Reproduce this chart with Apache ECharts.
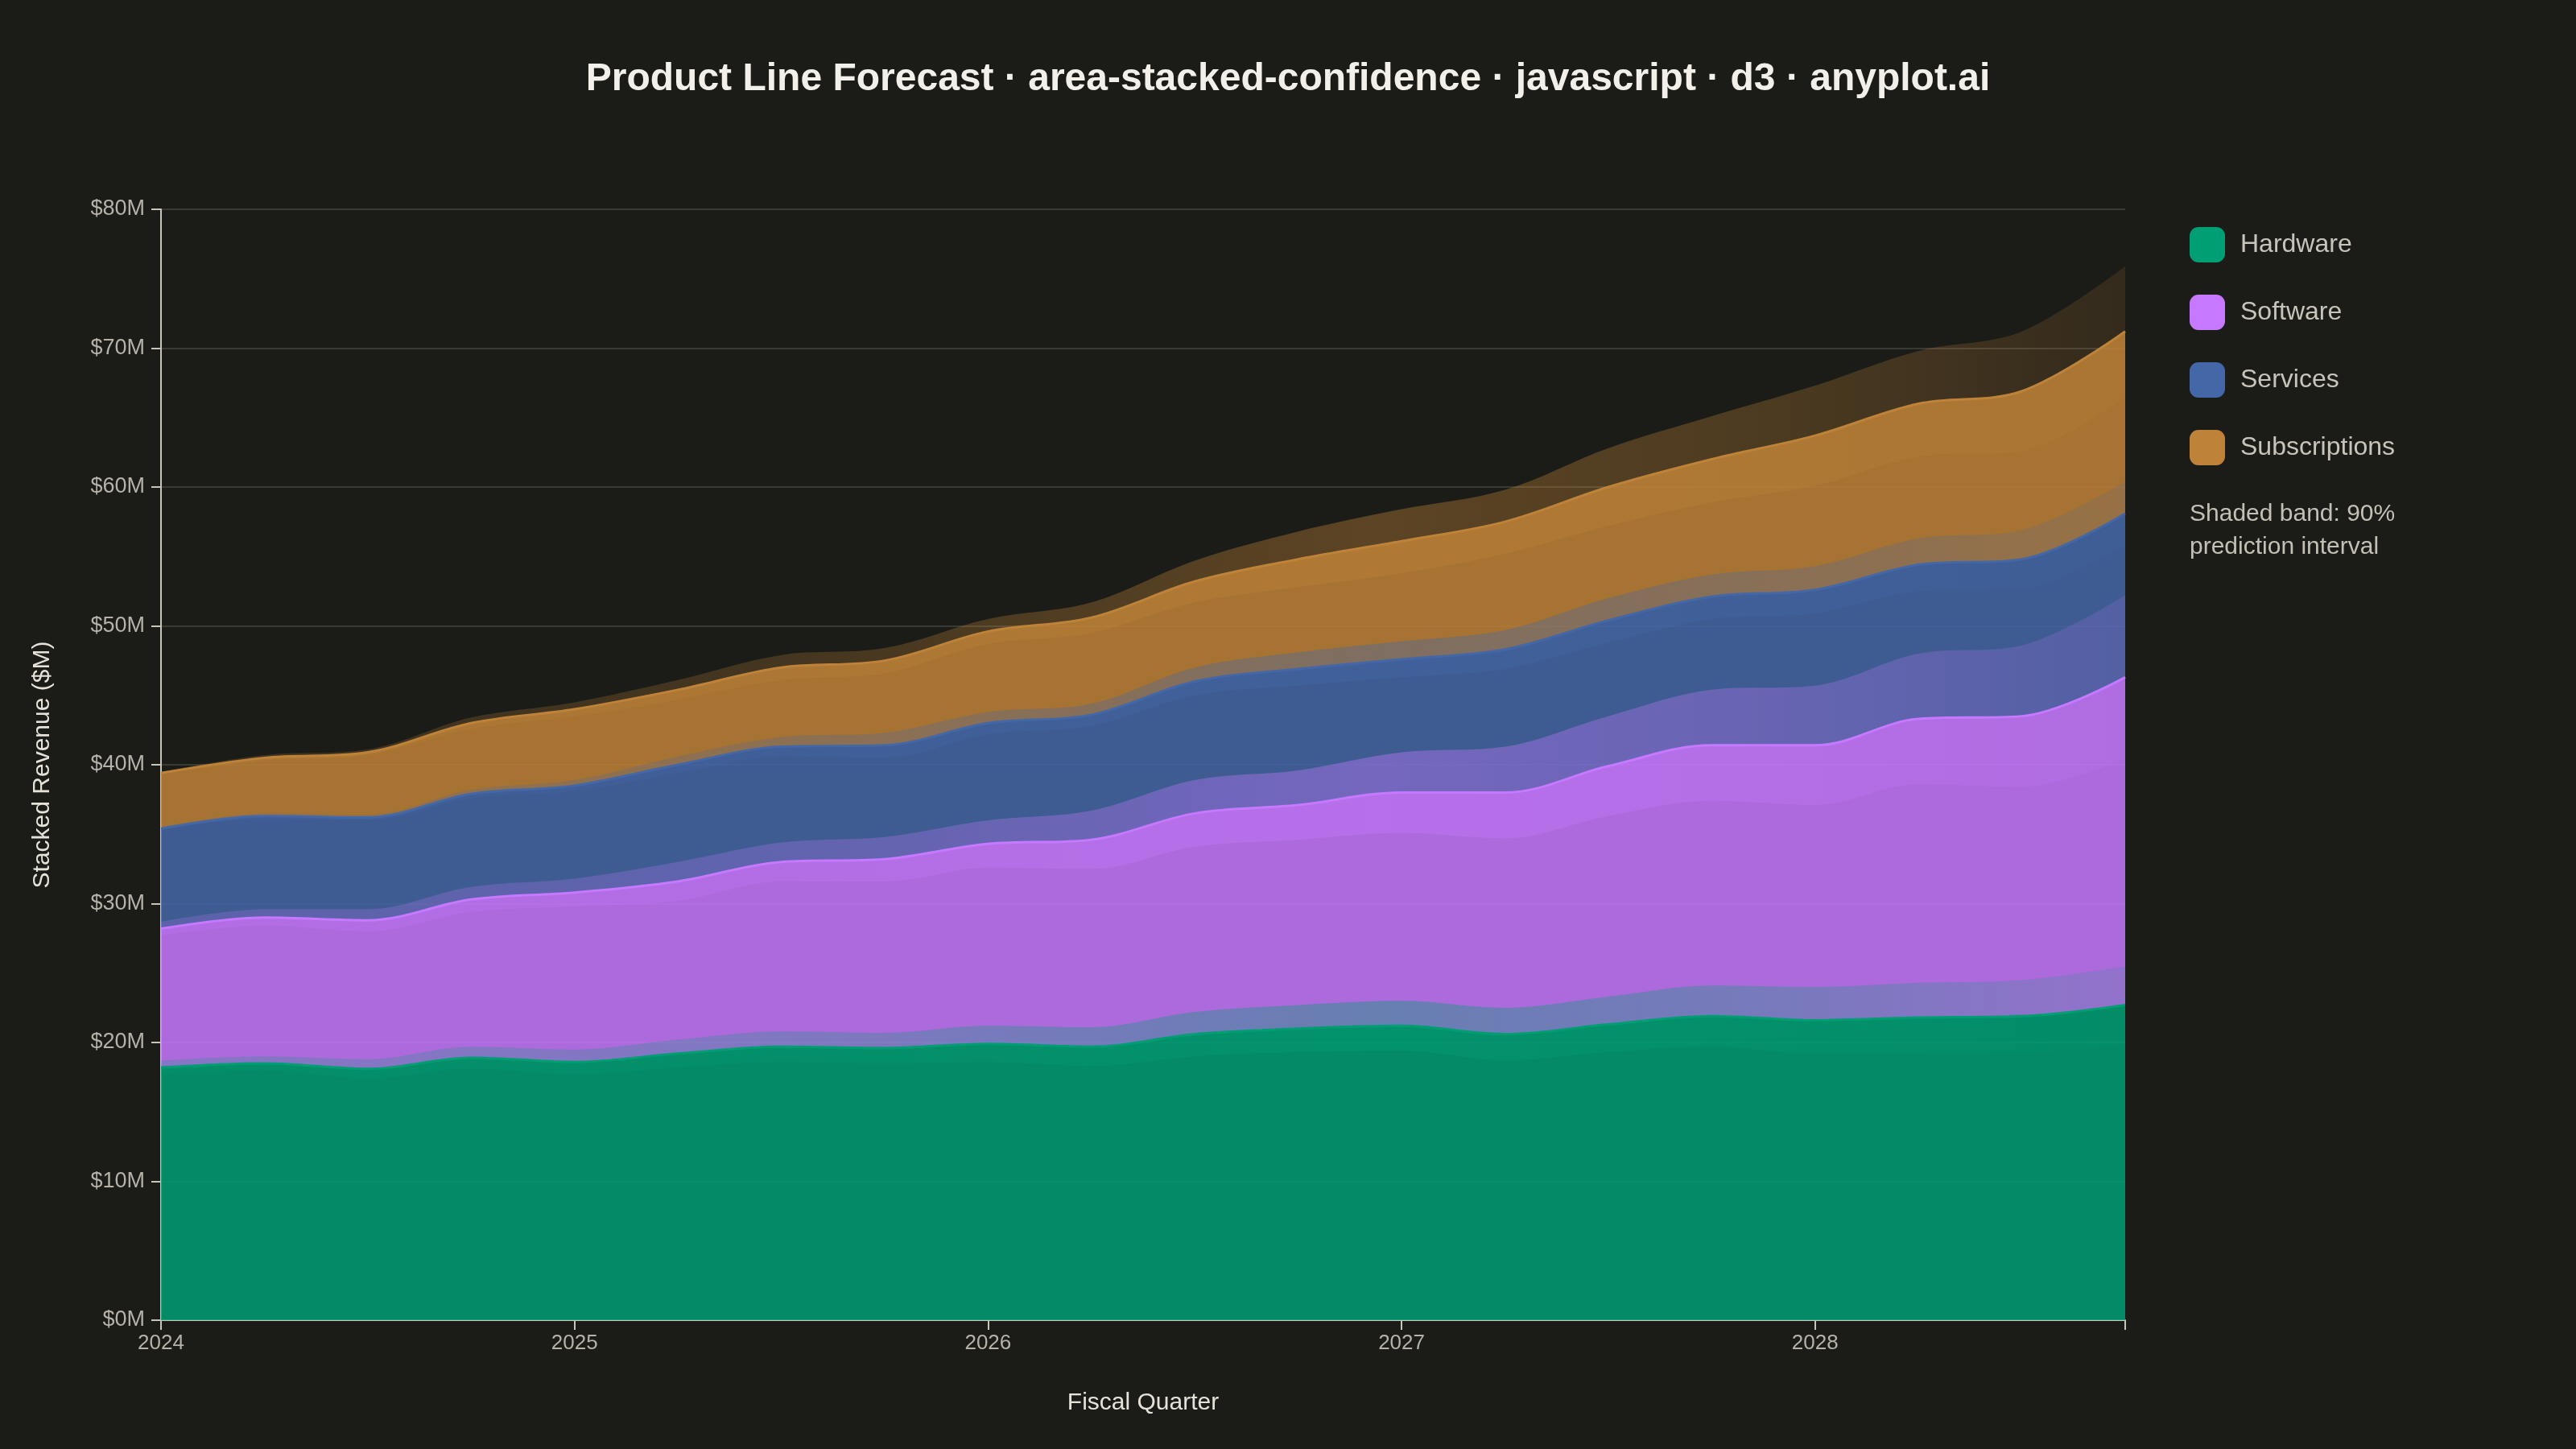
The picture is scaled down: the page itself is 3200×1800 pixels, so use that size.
<!DOCTYPE html>
<html>

<head>
  <meta charset="utf-8">
  <script src="https://cdn.jsdelivr.net/npm/echarts@6.0.0/dist/echarts.min.js"></script>
  <style>
    html, body {
      margin: 0;
      padding: 0;
      background: #1b1b17;
    }
    #chart {
      width: 3200px;
      height: 1800px;
    }
  </style>
</head>

<body>
  <div id="chart"></div>
  <script>
    // fiscal quarters, Q1 2024 .. Q4 2028
    const quarters = ['2024 Q1', '2024 Q2', '2024 Q3', '2024 Q4', '2025 Q1', '2025 Q2', '2025 Q3', '2025 Q4',
      '2026 Q1', '2026 Q2', '2026 Q3', '2026 Q4', '2027 Q1', '2027 Q2', '2027 Q3', '2027 Q4',
      '2028 Q1', '2028 Q2', '2028 Q3', '2028 Q4']

    // revenue per product line, $M
    const hardware = [18.2, 18.5, 18.1, 18.9, 18.6, 19.2, 19.7, 19.6, 19.9, 19.7, 20.6, 21.0, 21.2, 20.6, 21.3, 21.9, 21.6, 21.8, 21.9, 22.7]
    const software = [10.0, 10.5, 10.7, 11.4, 12.2, 12.4, 13.3, 13.6, 14.4, 14.9, 15.9, 16.1, 16.8, 17.4, 18.6, 19.5, 19.8, 21.5, 21.6, 23.6]
    const services = [7.2, 7.3, 7.4, 7.6, 7.7, 8.4, 8.3, 8.2, 8.7, 9.0, 9.5, 9.8, 9.6, 10.3, 10.5, 10.7, 11.2, 11.1, 11.3, 11.8]
    const subscriptions = [4.0, 4.2, 4.7, 5.1, 5.5, 5.4, 5.7, 6.1, 6.6, 7.0, 7.2, 7.9, 8.5, 9.2, 9.6, 9.9, 11.1, 11.6, 12.1, 13.1]

    // half width of the 90% prediction interval around each stacked top, $M
    const hardwareBand = [0.5, 0.5, 0.7, 0.8, 0.9, 1.0, 1.1, 1.1, 1.3, 1.4, 1.6, 1.7, 1.8, 1.9, 2.0, 2.2, 2.4, 2.5, 2.6, 2.8]
    const softwareBand = [0.5, 0.6, 0.8, 0.9, 1.0, 1.4, 1.4, 1.6, 1.7, 2.1, 2.4, 2.5, 2.9, 3.3, 3.6, 4.0, 4.3, 4.7, 5.1, 5.9]
    const servicesBand = [0.1, 0.2, 0.2, 0.3, 0.4, 0.6, 0.7, 0.9, 0.8, 0.8, 1.0, 1.2, 1.3, 1.4, 1.6, 1.6, 1.7, 1.9, 2.1, 2.3]
    const subscriptionsBand = [0.1, 0.2, 0.2, 0.4, 0.5, 0.7, 0.9, 0.9, 0.9, 1.1, 1.5, 2.0, 2.3, 2.3, 2.8, 3.1, 3.6, 3.8, 4.3, 4.7]

    const yTicks = [0, 10, 20, 30, 40, 50, 60, 70, 80]

    const lines = [
      { name: 'Hardware', color: '#009E73', values: hardware, band: hardwareBand },
      { name: 'Software', color: '#C678FF', values: software, band: softwareBand },
      { name: 'Services', color: '#4467A8', values: services, band: servicesBand },
      { name: 'Subscriptions', color: '#BE8338', values: subscriptions, band: subscriptionsBand }
    ]

    const FONT = '"Liberation Sans", Arial, sans-serif'
    const SMOOTH = 0.35

    function rgba(hex, a) {
      const n = parseInt(hex.slice(1), 16)
      return `rgba(${(n >> 16) & 255},${(n >> 8) & 255},${n & 255},${a})`
    }

    // band fill fades out toward the far forecast
    function bandFill(hex) {
      return new echarts.graphic.LinearGradient(0, 0, 1, 0, [
        { offset: 0, color: rgba(hex, 0.22) },
        { offset: 0.3, color: rgba(hex, 0.25) },
        { offset: 0.62, color: rgba(hex, 0.4) },
        { offset: 0.82, color: rgba(hex, 0.3) },
        { offset: 1, color: rgba(hex, 0.15) }
      ])
    }

    const round = arr => arr.map(v => +v.toFixed(2))

    const series = []
    const running = quarters.map(() => 0)
    const tops = []
    lines.forEach(l => {
      l.values.forEach((v, i) => { running[i] += v })
      tops.push(running.slice())
    })

    // stacked fills
    lines.forEach(l => {
      series.push({
        name: l.name,
        type: 'line',
        stack: 'total',
        smooth: SMOOTH,
        showSymbol: false,
        z: 2,
        itemStyle: { color: l.color },
        lineStyle: { width: 0 },
        areaStyle: { color: l.color, opacity: 0.85 },
        data: l.values
      })
    })

    // prediction bands around each stacked top
    lines.forEach((l, k) => {
      const lower = tops[k].map((t, i) => t - l.band[i])
      const width = l.band.map(b => 2 * b)
      series.push({
        name: l.name + ' lower',
        type: 'line',
        stack: 'band' + k,
        smooth: SMOOTH,
        showSymbol: false,
        silent: true,
        z: 3,
        lineStyle: { opacity: 0 },
        data: round(lower)
      })
      series.push({
        name: l.name + ' band',
        type: 'line',
        stack: 'band' + k,
        smooth: SMOOTH,
        showSymbol: false,
        silent: true,
        z: 3,
        lineStyle: { width: 0 },
        areaStyle: { color: bandFill(l.color), opacity: 1 },
        data: round(width)
      })
    })

    // boundary lines
    lines.forEach((l, k) => {
      series.push({
        name: l.name + ' line',
        type: 'line',
        smooth: SMOOTH,
        showSymbol: false,
        silent: true,
        z: 4,
        lineStyle: { color: l.color, width: 3 },
        data: round(tops[k])
      })
    })

    const axisColor = '#C8C4B8'
    const labelColor = '#B6B2A8'
    const last = quarters.length - 1

    const option = {
      backgroundColor: '#1b1b17',
      animation: false,
      title: {
        text: 'Product Line Forecast · area-stacked-confidence · javascript · d3 · anyplot.ai',
        left: 'center',
        top: 70,
        textStyle: { fontFamily: FONT, fontSize: 48, fontWeight: 'bold', color: '#F2F0E8' }
      },
      legend: {
        orient: 'vertical',
        left: 2720,
        top: 282,
        padding: 0,
        itemWidth: 44,
        itemHeight: 44,
        itemGap: 40,
        icon: 'roundRect',
        selectedMode: false,
        textStyle: { fontFamily: FONT, fontSize: 32, color: '#C8C4BA', padding: [0, 0, 0, 14] },
        data: lines.map(l => ({ name: l.name, itemStyle: { color: l.color, opacity: 1 } }))
      },
      graphic: [{
        type: 'text',
        left: 2720,
        top: 618,
        style: {
          text: 'Shaded band: 90%\nprediction interval',
          fontFamily: FONT,
          fontSize: 30,
          lineHeight: 41,
          fill: '#C4C0B4'
        }
      }],
      grid: { left: 200, right: 560, top: 260, bottom: 160 },
      xAxis: {
        type: 'category',
        data: quarters,
        boundaryGap: false,
        name: 'Fiscal Quarter',
        nameLocation: 'middle',
        nameGap: 88,
        nameTextStyle: { fontFamily: FONT, fontSize: 30, color: '#E6E2D8' },
        axisLine: { show: true, lineStyle: { color: axisColor, width: 2 } },
        axisTick: {
          show: true, length: 12,
          interval: i => i % 4 === 0 || i === last,
          lineStyle: { color: axisColor, width: 2 }
        },
        axisLabel: {
          fontFamily: FONT, fontSize: 26, color: labelColor, margin: 16,
          interval: i => i % 4 === 0,
          formatter: v => v.slice(0, 4)
        },
        splitLine: { show: false }
      },
      yAxis: {
        type: 'value',
        min: yTicks[0],
        max: yTicks[yTicks.length - 1],
        interval: 10,
        name: 'Stacked Revenue ($M)',
        nameLocation: 'middle',
        nameGap: 132,
        nameTextStyle: { fontFamily: FONT, fontSize: 30, color: '#E6E2D8' },
        axisLine: { show: true, lineStyle: { color: axisColor, width: 2 } },
        axisTick: { show: true, length: 12, lineStyle: { color: axisColor, width: 2 } },
        axisLabel: { fontFamily: FONT, fontSize: 27, color: labelColor, margin: 20, formatter: '${value}M' },
        splitLine: { show: true, lineStyle: { color: '#3A3A35', width: 2 } }
      },
      series: series
    }

    const chart = echarts.init(document.getElementById('chart'))
    chart.setOption(option)
  </script>
</body>

</html>
